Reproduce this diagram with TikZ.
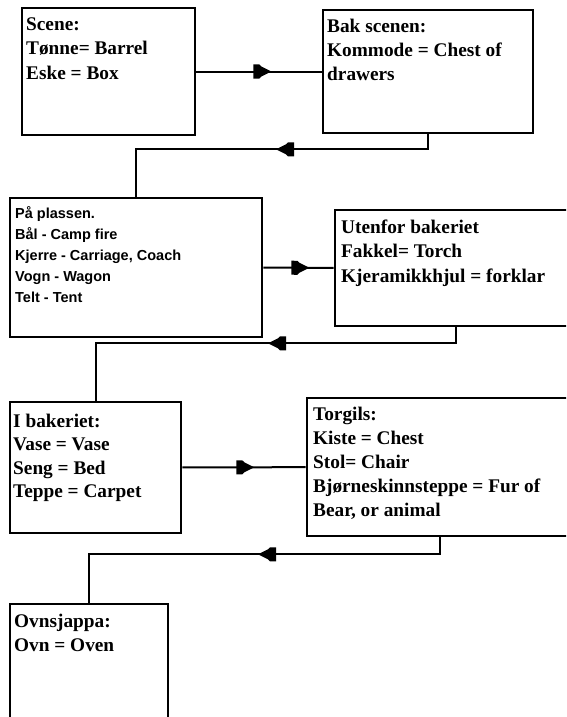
\documentclass[tikz,border=0pt]{standalone}
\usepackage{fontspec}
\setmainfont{Liberation Serif}
\newfontfamily\sansf{Liberation Sans}
\usetikzlibrary{decorations.markings}

% lines of text set with a fixed baseline distance; the baseline of the
% whole block is that of its first line
\newcommand\textrows[2]{\vtop{\baselineskip=#1\relax\lineskiplimit=-100pt\halign{##\hfil\cr #2\crcr}}}

\tikzset{
  box/.style={draw, line width=2.6pt, rectangle, inner sep=0pt},
  boxtext/.style={anchor=base west, inner sep=0pt,
    font=\fontsize{19.3}{24}\selectfont\bfseries},
  boxtextsans/.style={anchor=base west, inner sep=0pt,
    font=\fontsize{14.5}{21}\selectfont\sansf\bfseries},
  conn/.style={line width=2pt},
  midhead/.style={postaction={decorate}, decoration={markings,
    mark=at position #1 with {\fill[black] (0,0) -- (-10,-5) -- (-12,-7)
      -- (-18,-7) -- (-18,7) -- (-12,7) -- (-10,5) -- cycle;}}}
}

\begin{document}
\begin{tikzpicture}[x=1pt, y=-1pt, line join=miter]
\useasboundingbox (0,0) rectangle (566,717);
\clip (0,0) rectangle (566,717);

% boxes
\node[box, minimum width=173, minimum height=127] (scene) at (108.5,71.5) {};
\node[box, minimum width=210, minimum height=123] (bak) at (428,71.5) {};
\node[box, minimum width=252, minimum height=139] (plass) at (136,267.5) {};
\node[box, minimum width=242, minimum height=116] (utenfor) at (456,268) {};
\node[box, minimum width=171, minimum height=131] (ibak) at (95.5,467.5) {};
\node[box, minimum width=266, minimum height=138] (torgils) at (440,467) {};
\node[box, minimum width=158, minimum height=156] (ovn) at (89,682) {};

% texts
\node[boxtext] (tscene) at (26,31) {\textrows{24pt}{Scene:\cr Tønne= Barrel\cr Eske = Box}};
\node[boxtext] (tbak) at (327,33) {\textrows{24pt}{Bak scenen:\cr Kommode = Chest of\cr drawers}};
\node[boxtextsans] (tplass) at (15,218) {\textrows{21pt}{På plassen.\cr Bål - Camp fire\cr Kjerre - Carriage, Coach\cr Vogn - Wagon\cr Telt - Tent}};
\node[boxtext] (tutenfor) at (341,233) {\textrows{24.5pt}{Utenfor bakeriet\cr Fakkel= Torch\cr Kjeramikkhjul = forklar}};
\node[boxtext] (tibak) at (13,427) {\textrows{23.5pt}{I bakeriet:\cr Vase = Vase\cr Seng = Bed\cr Teppe = Carpet}};
\node[boxtext] (ttorgils) at (313,420) {\textrows{24pt}{Torgils:\cr Kiste = Chest\cr Stol= Chair\cr Bjørneskinnsteppe = Fur of\cr Bear, or animal}};
\node[boxtext] (tovn) at (14,627) {\textrows{24pt}{Ovnsjappa:\cr Ovn = Oven}};

% connectors
\draw[conn, midhead=75pt] (scene) -- (bak);
\draw[conn, midhead=167pt] (bak.south) -- ++(0,15) -| (plass.north);
\draw[conn, midhead=46pt] (plass) -- (utenfor);
\draw[conn, midhead=204pt] (utenfor.south) -- ++(0,16) -| (ibak.north);
\draw[conn, midhead=72pt] (ibak) -- (torgils);
\draw[conn, midhead=199pt] (torgils.south) -- ++(0,17) -| (ovn.north);
\end{tikzpicture}
\end{document}
